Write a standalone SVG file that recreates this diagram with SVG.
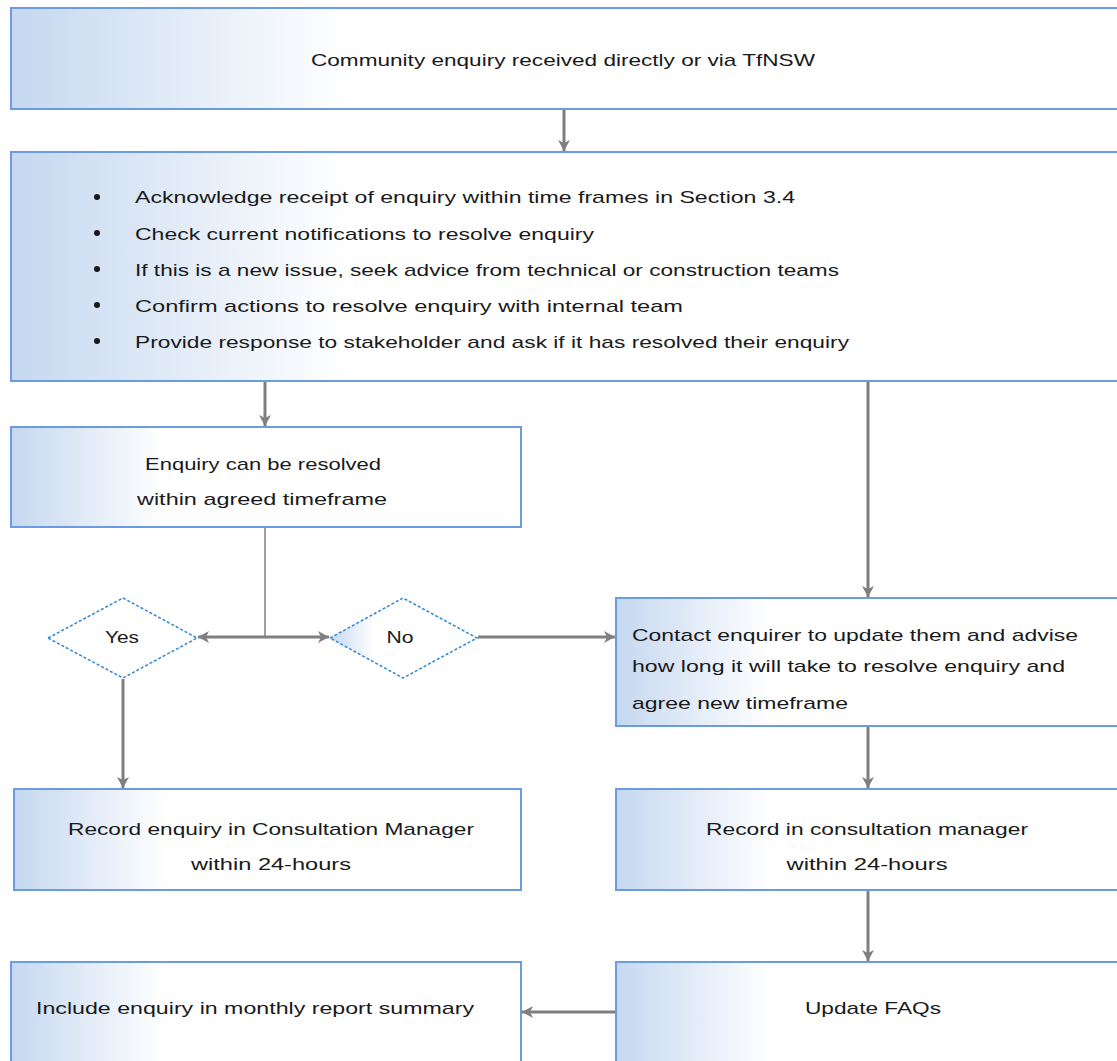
<svg xmlns="http://www.w3.org/2000/svg" width="1117" height="1061" viewBox="0 0 1117 1061">
<style>
.box{stroke:#6b9be0;stroke-width:2;fill:url(#g)}
.dia{stroke:#2f86d6;stroke-width:1.5;stroke-dasharray:3 2;fill:url(#g)}
text{font-family:"Liberation Sans",Arial,sans-serif;font-size:17px;fill:#1a1a1a}
.c{text-anchor:middle}
.con{stroke:#7f7f7f;stroke-width:3;fill:none}
.thin{stroke:#7f7f7f;stroke-width:1.5;fill:none}
</style>
<defs>
<linearGradient id="g" x1="0" y1="0" x2="1" y2="0">
<stop offset="0" stop-color="#c5d8f0"/>
<stop offset="0.3" stop-color="#ffffff"/>
<stop offset="1" stop-color="#ffffff"/>
</linearGradient>
<marker id="a" markerUnits="userSpaceOnUse" markerWidth="12" markerHeight="12" refX="11" refY="6" orient="auto">
<path d="M0,0 L11,6 L0,12 L3,6 Z" fill="#7f7f7f"/>
</marker>
</defs>
<rect width="1117" height="1061" fill="#ffffff"/>

<g id="connectors">
<line class="con" x1="564" y1="110" x2="564" y2="151" marker-end="url(#a)"/>
<line class="con" x1="265" y1="382" x2="265" y2="426" marker-end="url(#a)"/>
<line class="con" x1="868" y1="382" x2="868" y2="597" marker-end="url(#a)"/>
<line class="thin" x1="265" y1="528" x2="265" y2="637"/>
<line class="con" x1="265" y1="637" x2="198" y2="637" marker-end="url(#a)"/>
<line class="con" x1="265" y1="637" x2="329" y2="637" marker-end="url(#a)"/>
<line class="con" x1="478" y1="637" x2="615" y2="637" marker-end="url(#a)"/>
<line class="con" x1="123" y1="679" x2="123" y2="788" marker-end="url(#a)"/>
<line class="con" x1="868" y1="727" x2="868" y2="788" marker-end="url(#a)"/>
<line class="con" x1="868" y1="891" x2="868" y2="961" marker-end="url(#a)"/>
<line class="con" x1="615" y1="1012" x2="522" y2="1012" marker-end="url(#a)"/>
</g>

<g id="n1">
<rect class="box" x="11" y="8" width="1120" height="101"/>
<text class="c" x="563" y="66" textLength="504" lengthAdjust="spacingAndGlyphs">Community enquiry received directly or via TfNSW</text>
</g>

<g id="n2">
<rect class="box" x="11" y="152" width="1120" height="229"/>
<circle cx="97" cy="197" r="3" fill="#1a1a1a"/>
<circle cx="97" cy="233" r="3" fill="#1a1a1a"/>
<circle cx="97" cy="269" r="3" fill="#1a1a1a"/>
<circle cx="97" cy="305" r="3" fill="#1a1a1a"/>
<circle cx="97" cy="341" r="3" fill="#1a1a1a"/>
<text x="135" y="203" textLength="660" lengthAdjust="spacingAndGlyphs">Acknowledge receipt of enquiry within time frames in Section 3.4</text>
<text x="135" y="240" textLength="459" lengthAdjust="spacingAndGlyphs">Check current notifications to resolve enquiry</text>
<text x="135" y="276" textLength="704" lengthAdjust="spacingAndGlyphs">If this is a new issue, seek advice from technical or construction teams</text>
<text x="135" y="312" textLength="548" lengthAdjust="spacingAndGlyphs">Confirm actions to resolve enquiry with internal team</text>
<text x="135" y="348" textLength="714" lengthAdjust="spacingAndGlyphs">Provide response to stakeholder and ask if it has resolved their enquiry</text>
</g>

<g id="n3">
<rect class="box" x="11" y="427" width="510" height="100"/>
<text class="c" x="263" y="470" textLength="236" lengthAdjust="spacingAndGlyphs">Enquiry can be resolved</text>
<text class="c" x="262" y="505" textLength="250" lengthAdjust="spacingAndGlyphs">within agreed timeframe</text>
</g>

<g id="yes">
<polygon class="dia" points="48,638 123,598 197,638 123,678" style="fill:#ffffff"/>
<text class="c" x="122" y="643" textLength="34" lengthAdjust="spacingAndGlyphs">Yes</text>
</g>

<g id="no">
<polygon class="dia" points="330,638 403,598 477,638 403,678"/>
<text class="c" x="400" y="643" textLength="27" lengthAdjust="spacingAndGlyphs">No</text>
</g>

<g id="n4">
<rect class="box" x="616" y="598" width="515" height="128"/>
<text x="632" y="641" textLength="446" lengthAdjust="spacingAndGlyphs">Contact enquirer to update them and advise</text>
<text x="632" y="672" textLength="433" lengthAdjust="spacingAndGlyphs">how long it will take to resolve enquiry and</text>
<text x="632" y="709" textLength="216" lengthAdjust="spacingAndGlyphs">agree new timeframe</text>
</g>

<g id="n5">
<rect class="box" x="14" y="789" width="507" height="101"/>
<text class="c" x="271" y="835" textLength="406" lengthAdjust="spacingAndGlyphs">Record enquiry in Consultation Manager</text>
<text class="c" x="271" y="870" textLength="160" lengthAdjust="spacingAndGlyphs">within 24-hours</text>
</g>

<g id="n6">
<rect class="box" x="616" y="789" width="515" height="101"/>
<text class="c" x="867" y="835" textLength="322" lengthAdjust="spacingAndGlyphs">Record in consultation manager</text>
<text class="c" x="867" y="870" textLength="161" lengthAdjust="spacingAndGlyphs">within 24-hours</text>
</g>

<g id="n7">
<rect class="box" x="11" y="962" width="510" height="110"/>
<text x="36" y="1014" textLength="438" lengthAdjust="spacingAndGlyphs">Include enquiry in monthly report summary</text>
</g>

<g id="n8">
<rect class="box" x="616" y="962" width="515" height="110"/>
<text class="c" x="873" y="1014" textLength="136" lengthAdjust="spacingAndGlyphs">Update FAQs</text>
</g>
</svg>
